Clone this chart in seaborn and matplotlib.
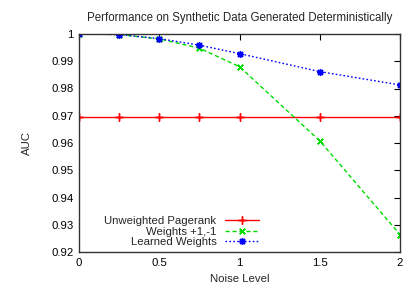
import matplotlib
matplotlib.use("Agg")
import matplotlib.pyplot as plt
import seaborn as sns
import pandas as pd

noise = [0, 0.25, 0.5, 0.75, 1.0, 1.5, 2.0]
unweighted = [0.9697, 0.9697, 0.9697, 0.9697, 0.9697, 0.9697, 0.9697]
weights_pm1 = [1.0, 0.9998, 0.9982, 0.9948, 0.9880, 0.9608, 0.9264]
learned = [1.0, 0.9998, 0.9983, 0.9959, 0.9928, 0.9862, 0.9813]

labels = ["Unweighted Pagerank", "Weights +1,-1", "Learned Weights"]
xticks = [0, 0.5, 1, 1.5, 2]
xtick_labels = ["0", "0.5", "1", "1.5", "2"]
yticks = [0.92, 0.93, 0.94, 0.95, 0.96, 0.97, 0.98, 0.99, 1.0]
ytick_labels = ["0.92", "0.93", "0.94", "0.95", "0.96", "0.97", "0.98", "0.99", "1"]

sns.set_style("white")
plt.rcParams['font.family'] = ['Liberation Sans', 'DejaVu Sans']

fig = plt.figure(figsize=(4.12, 2.89), dpi=100)
ax = fig.add_axes([79/412, 1 - 252/289, (400 - 79)/412, (252 - 34)/289])

series = [
    (unweighted, "#ff0000", "-", (4, 2, 0), 6),
    (weights_pm1, "#00dd00", (0, (3, 2)), (4, 2, 45), 5.5),
    (learned, "#0000ff", (0, (1.2, 1.6)), (8, 2, 0), 5),
]
for (vals, color, ls, marker, ms), lab in zip(series, labels):
    df = pd.DataFrame({"x": noise, "y": vals})
    sns.lineplot(data=df, x="x", y="y", ax=ax, color=color, linestyle=ls,
                 marker=marker, markersize=ms, markeredgewidth=1.0,
                 markeredgecolor=color, linewidth=1.0, label=lab)

ax.set_xlim(0, 2)
ax.set_ylim(0.92, 1.0)
ax.set_xticks(xticks)
ax.set_xticklabels(xtick_labels)
ax.set_yticks(yticks)
ax.set_yticklabels(ytick_labels)
ax.tick_params(direction="in", length=4, width=0.8, top=True, right=True,
               labelsize=8.2, pad=4, colors="black")
for s in ax.spines.values():
    s.set_color("#333333")
    s.set_linewidth(1.0)

ax.set_xlabel("Noise Level", fontsize=8.2, labelpad=5)
ax.set_ylabel("AUC", fontsize=8.2, labelpad=14)
ax.set_title("Performance on Synthetic Data Generated Deterministically",
             fontsize=8.3, pad=9)

leg = ax.legend(loc="lower left", bbox_to_anchor=(0.065, 0.0), frameon=False,
                markerfirst=False, fontsize=8.2, handlelength=3.0,
                labelspacing=0.05, borderaxespad=0.0, handletextpad=0.7)
for t in leg.get_texts():
    t.set_ha("right")
leg._legend_box.align = "right"

fig.savefig("out.png", dpi=100)
